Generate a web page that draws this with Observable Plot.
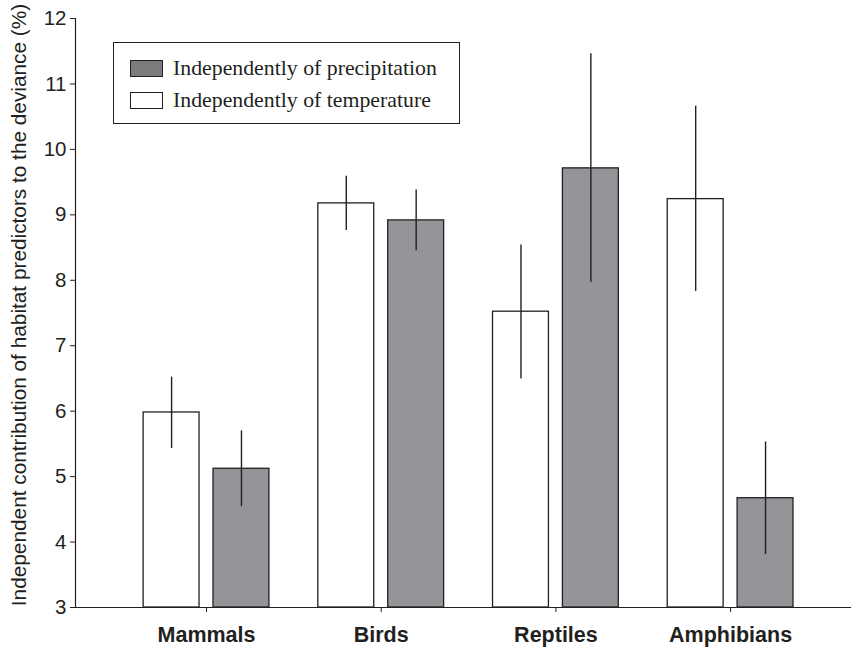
<!DOCTYPE html>
<html>
<head>
<meta charset="utf-8">
<script src="https://cdn.jsdelivr.net/npm/d3@7"></script>
<script src="https://cdn.jsdelivr.net/npm/@observablehq/plot@0.6"></script>
<style>
  html, body { margin: 0; padding: 0; background: #fff; }
  #wrap { position: relative; width: 851px; height: 648px; }
  #legend {
    position: absolute; left: 113px; top: 42px; width: 347px; height: 82px;
    box-sizing: border-box; border: 1.3px solid #231f20; background: #fff;
    font-family: "Liberation Serif", "Times New Roman", serif; font-size: 21.8px; color: #231f20;
  }
  .row { position: absolute; left: 16px; height: 30px; display: flex; align-items: center; white-space: nowrap; }
  .sw { width: 33px; height: 17px; box-sizing: border-box; border: 1.3px solid #231f20; margin-right: 10px; }
</style>
</head>
<body>
<div id="wrap"></div>
<script>
const categories = ["Mammals", "Birds", "Reptiles", "Amphibians"];
const seriesNames = ["Independently of temperature", "Independently of precipitation"];
const seriesFill = ["#ffffff", "#939598"];
const legendFill = ["#ffffff", "#7b7b7e"];

const temperature   = [5.98, 9.175, 7.52, 9.24];
const temperatureLo = [5.43, 8.76, 6.49, 7.83];
const temperatureHi = [6.52, 9.59, 8.54, 10.66];

const precipitation   = [5.12, 8.915, 9.71, 4.67];
const precipitationLo = [4.54, 8.45, 7.97, 3.81];
const precipitationHi = [5.70, 9.38, 11.46, 5.53];

const yTicks = [3, 4, 5, 6, 7, 8, 9, 10, 11, 12];
const yLabel = "Independent contribution of habitat predictors to the deviance (%)";

const seriesValues = [
  [temperature, temperatureLo, temperatureHi],
  [precipitation, precipitationLo, precipitationHi]
];

const rows = [];
categories.forEach((c, i) => {
  seriesValues.forEach(([v, lo, hi], s) => {
    rows.push({category: c, i, s, series: seriesNames[s], value: v[i], lo: lo[i], hi: hi[i]});
  });
});

const off = [-0.2, 0.2];   // group offset of each series (in category units)
const half = 0.16;         // half bar width
const xDomain = [-0.75, 3.692];

const ink = "#231f20";

const chart = Plot.plot({
  width: 851,
  height: 648,
  marginLeft: 75,
  marginRight: 0,
  marginTop: 18,
  marginBottom: 41,
  style: {fontFamily: "'Liberation Sans', Arial, sans-serif", color: ink, background: "#fff", overflow: "visible"},
  x: {type: "linear", domain: xDomain, label: null},
  y: {domain: [3, 12], label: null},
  marks: [
    Plot.rect(rows, {
      x1: d => d.i + off[d.s] - half,
      x2: d => d.i + off[d.s] + half,
      y1: 3,
      y2: "value",
      fill: d => seriesFill[d.s],
      stroke: ink,
      strokeWidth: 1.3
    }),
    Plot.ruleX(rows, {
      x: d => d.i + off[d.s],
      y1: "lo",
      y2: "hi",
      stroke: ink,
      strokeWidth: 1.4
    }),
    Plot.ruleX([xDomain[0]], {stroke: ink, strokeWidth: 1.2}),
    Plot.ruleY([3], {stroke: ink, strokeWidth: 1.2}),
    Plot.axisY({ticks: yTicks, tickSize: 5, tickPadding: 4, fontSize: 20.5, label: null}),
    Plot.axisX({
      ticks: d3.range(categories.length),
      tickFormat: i => categories[i],
      tickSize: 5,
      tickPadding: 14,
      fontSize: 21.5,
      fontWeight: "bold",
      label: null
    }),
    Plot.text([yLabel], {
      frameAnchor: "left",
      textAnchor: "middle",
      rotate: -90,
      dx: -56,
      dy: -8,
      fontSize: 20.8,
      fill: ink
    })
  ]
});

const wrap = document.getElementById("wrap");
wrap.appendChild(chart);

const legend = document.createElement("div");
legend.id = "legend";
const order = [1, 0];
const rowTops = [10, 42];
order.forEach((s, k) => {
  const r = document.createElement("div");
  r.className = "row";
  r.style.top = rowTops[k] + "px";
  const sw = document.createElement("div");
  sw.className = "sw";
  sw.style.background = legendFill[s];
  const t = document.createElement("span");
  t.textContent = seriesNames[s];
  r.appendChild(sw);
  r.appendChild(t);
  legend.appendChild(r);
});
wrap.appendChild(legend);
</script>
</body>
</html>
